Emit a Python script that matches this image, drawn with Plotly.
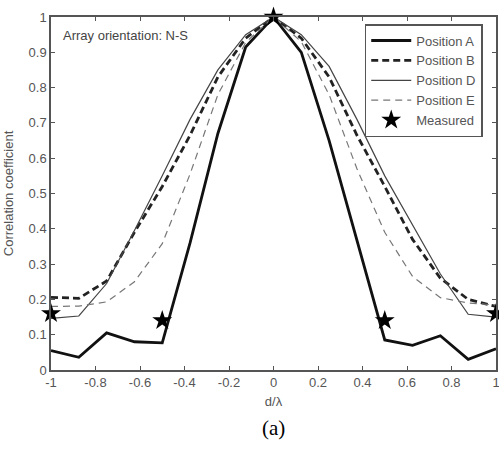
import plotly.graph_objects as go

d_lambda = [-1, -0.875, -0.75, -0.625, -0.5, -0.375, -0.25, -0.125, 0,
            0.125, 0.25, 0.375, 0.5, 0.625, 0.75, 0.875, 1]

pos_a = [0.055, 0.036, 0.105, 0.080, 0.077, 0.36, 0.67, 0.915, 1.0,
         0.90, 0.65, 0.37, 0.085, 0.070, 0.097, 0.030, 0.060]
pos_b = [0.206, 0.203, 0.252, 0.390, 0.520, 0.665, 0.830, 0.940, 1.0,
         0.940, 0.830, 0.665, 0.520, 0.370, 0.260, 0.200, 0.180]
pos_d = [0.146, 0.153, 0.245, 0.395, 0.550, 0.710, 0.850, 0.950, 1.0,
         0.950, 0.860, 0.710, 0.550, 0.410, 0.272, 0.158, 0.150]
pos_e = [0.180, 0.181, 0.193, 0.250, 0.358, 0.555, 0.780, 0.928, 1.0,
         0.930, 0.780, 0.570, 0.390, 0.265, 0.205, 0.190, 0.184]

meas_x = [-1, -0.5, 0, 0.5, 1]
meas_y = [0.16, 0.14, 1.0, 0.14, 0.16]

x_ticks = [-1, -0.8, -0.6, -0.4, -0.2, 0, 0.2, 0.4, 0.6, 0.8, 1]
x_tick_text = ["-1", "-0.8", "-0.6", "-0.4", "-0.2", "0", "0.2", "0.4", "0.6", "0.8", "1"]
y_ticks = [0, 0.1, 0.2, 0.3, 0.4, 0.5, 0.6, 0.7, 0.8, 0.9, 1]
y_tick_text = ["0", "0.1", "0.2", "0.3", "0.4", "0.5", "0.6", "0.7", "0.8", "0.9", "1"]

FONT = "Liberation Sans"
GRAY = "#555555"

fig = go.Figure()
fig.add_trace(go.Scatter(x=d_lambda, y=pos_a, mode="lines", name="Position A",
                         line=dict(color="#111111", width=2.8)))
fig.add_trace(go.Scatter(x=d_lambda, y=pos_b, mode="lines", name="Position B",
                         line=dict(color="#222222", width=2.8, dash="7px,4px")))
fig.add_trace(go.Scatter(x=d_lambda, y=pos_d, mode="lines", name="Position D",
                         line=dict(color="#444444", width=1.2)))
fig.add_trace(go.Scatter(x=d_lambda, y=pos_e, mode="lines", name="Position E",
                         line=dict(color="#777777", width=1.2, dash="7px,5px")))
fig.add_trace(go.Scatter(x=meas_x, y=meas_y, mode="markers", name="Measured",
                         marker=dict(symbol="star", size=15, color="#000000",
                                     line=dict(width=0)),
                         cliponaxis=False))

axis_common = dict(showgrid=False, zeroline=False, showline=True, mirror="allticks",
                   linecolor=GRAY, linewidth=1.5, ticks="inside", ticklen=4,
                   tickcolor=GRAY, automargin=False, ticklabeloverflow="allow",
                   tickfont=dict(family=FONT, size=13, color=GRAY))

fig.update_xaxes(range=[-1, 1], tickvals=x_ticks, ticktext=x_tick_text,
                 title=dict(text="d/λ", font=dict(family=FONT, size=13, color=GRAY),
                            standoff=8),
                 **axis_common)
fig.update_yaxes(range=[0, 1], tickvals=y_ticks, ticktext=y_tick_text,
                 title=dict(text="Correlation coefficient",
                            font=dict(family=FONT, size=13, color=GRAY),
                            standoff=12),
                 **axis_common)

fig.add_annotation(x=0.022, y=0.975, xref="paper", yref="paper", xanchor="left", yanchor="top",
                   text="Array orientation: N-S", showarrow=False,
                   font=dict(family=FONT, size=13, color="#444444"))
fig.add_annotation(x=0.5, y=-0.165, xref="paper", yref="paper", xanchor="center", yanchor="middle",
                   text="(a)", showarrow=False,
                   font=dict(family="Liberation Serif", size=21, color="#000000"))

fig.update_layout(
    width=499, height=450,
    margin=dict(l=51, r=3, t=17, b=80, autoexpand=False),
    paper_bgcolor="white", plot_bgcolor="white",
    showlegend=True,
    legend=dict(x=0.705, y=0.98, xanchor="left", yanchor="top",
                bgcolor="white", bordercolor=GRAY, borderwidth=1.5,
                font=dict(family=FONT, size=13, color=GRAY),
                tracegroupgap=0, itemwidth=40),
)

fig.write_html("out.html", config={"displayModeBar": False},
               post_script="document.body.style.margin='0';document.body.style.overflow='hidden';")
